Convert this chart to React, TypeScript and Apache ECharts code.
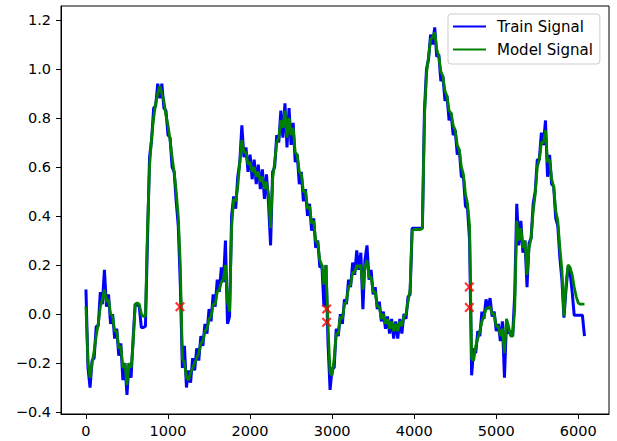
import React, { useEffect, useRef } from "react";
import * as echarts from "echarts";

const sampleStep = 25;

const trainSignal = [
  0.10, -0.22, -0.30, -0.19, -0.18, -0.05, -0.05, 0.09, 0.04, 0.18,
  0.03, 0.08, -0.04, 0.00, -0.10, -0.06, -0.17, -0.12, -0.27, -0.20,
  -0.33, -0.20, -0.26, -0.10, 0.04, 0.04, 0.03, -0.055, -0.055, -0.05,
  0.30, 0.64, 0.71, 0.84, 0.85, 0.94, 0.88, 0.94, 0.84, 0.83,
  0.73, 0.72, 0.60, 0.58, 0.46, 0.36, 0.12, -0.22, -0.13, -0.30,
  -0.23, -0.28, -0.18, -0.23, -0.14, -0.19, -0.09, -0.13, -0.04, -0.08,
  0.02, -0.03, 0.08, 0.03, 0.14, 0.09, 0.19, 0.13, 0.30, -0.04,
  -0.01, 0.40, 0.48, 0.43, 0.56, 0.62, 0.77, 0.64, 0.68, 0.58,
  0.65, 0.55, 0.63, 0.53, 0.61, 0.51, 0.59, 0.47, 0.57, 0.45,
  0.28, 0.58, 0.60, 0.73, 0.70, 0.83, 0.72, 0.86, 0.68, 0.84,
  0.69, 0.78, 0.62, 0.65, 0.53, 0.58, 0.46, 0.51, 0.40, 0.45,
  0.34, 0.39, 0.27, 0.30, 0.19, 0.20, 0.03, 0.20, -0.12, -0.31,
  -0.22, -0.22, -0.06, -0.09, 0.00, -0.04, 0.06, 0.04, 0.14, 0.11,
  0.21, 0.16, 0.26, 0.18, 0.25, 0.02, 0.22, 0.28, 0.14, 0.18,
  0.08, 0.11, 0.02, 0.05, -0.03, 0.01, -0.06, -0.01, -0.08, -0.02,
  -0.10, -0.03, -0.10, -0.02, -0.08, 0.00, -0.02, 0.07, 0.08, 0.35,
  0.35, 0.35, 0.35, 0.35, 0.35, 0.83, 1.00, 1.04, 1.14, 1.10,
  1.17, 1.05, 1.06, 0.95, 0.97, 0.87, 0.89, 0.79, 0.82, 0.73,
  0.75, 0.65, 0.67, 0.56, 0.56, 0.44, 0.43, 0.30, -0.25, -0.14,
  -0.16, -0.07, -0.09, 0.01, -0.02, 0.06, 0.02, 0.065, -0.01, 0.01,
  -0.07, -0.04, -0.11, -0.03, -0.26, -0.03, -0.08, -0.07, -0.09, 0.08,
  0.45, 0.28, 0.38, 0.25, 0.30, 0.11, 0.29, 0.31, 0.45, 0.50,
  0.63, 0.63, 0.74, 0.69, 0.79, 0.56, 0.65, 0.53, 0.52, 0.39,
  0.36, 0.23, 0.14, -0.015, 0.10, 0.19, 0.17, 0.09, -0.005, -0.005,
  -0.005, -0.005, -0.005, -0.09,
];

const modelSignal = [
  0.03, -0.20, -0.26, -0.20, -0.15, -0.09, -0.04, 0.03, 0.06, 0.10,
  0.05, 0.06, 0.00, -0.01, -0.07, -0.07, -0.14, -0.13, -0.22, -0.20,
  -0.29, -0.20, -0.22, -0.12, 0.04, 0.045, 0.04, 0.00, -0.01, -0.01,
  0.35, 0.60, 0.72, 0.80, 0.86, 0.90, 0.93, 0.90, 0.87, 0.81,
  0.77, 0.71, 0.64, 0.58, 0.50, 0.40, 0.20, -0.18, -0.20, -0.26,
  -0.27, -0.24, -0.22, -0.20, -0.18, -0.16, -0.12, -0.11, -0.07, -0.06,
  -0.02, -0.01, 0.04, 0.04, 0.09, 0.10, 0.13, 0.14, 0.20, 0.05,
  0.01, 0.35, 0.47, 0.46, 0.52, 0.62, 0.71, 0.66, 0.66, 0.61,
  0.62, 0.58, 0.60, 0.56, 0.58, 0.54, 0.56, 0.51, 0.54, 0.49,
  0.35, 0.55, 0.62, 0.70, 0.72, 0.79, 0.76, 0.83, 0.72, 0.80,
  0.73, 0.76, 0.66, 0.65, 0.58, 0.57, 0.50, 0.50, 0.43, 0.44,
  0.37, 0.38, 0.30, 0.29, 0.22, 0.20, 0.12, 0.20, -0.05, -0.24,
  -0.25, -0.18, -0.08, -0.08, -0.01, -0.02, 0.04, 0.05, 0.11, 0.12,
  0.17, 0.17, 0.20, 0.19, 0.20, 0.10, 0.19, 0.22, 0.15, 0.15,
  0.09, 0.09, 0.03, 0.03, -0.02, 0.00, -0.04, -0.02, -0.06, -0.03,
  -0.07, -0.04, -0.07, -0.03, -0.05, -0.01, 0.00, 0.05, 0.10, 0.34,
  0.345, 0.345, 0.345, 0.345, 0.35, 0.80, 0.98, 1.05, 1.12, 1.13,
  1.15, 1.08, 1.05, 0.99, 0.97, 0.91, 0.89, 0.83, 0.82, 0.77,
  0.75, 0.69, 0.67, 0.60, 0.57, 0.49, 0.45, 0.36, -0.18, -0.19,
  -0.13, -0.10, -0.07, -0.03, -0.01, 0.02, 0.025, 0.03, 0.00, 0.00,
  -0.05, -0.05, -0.09, -0.06, -0.16, -0.02, -0.05, -0.09, -0.09, 0.02,
  0.38, 0.30, 0.35, 0.27, 0.30, 0.16, 0.27, 0.31, 0.42, 0.49,
  0.60, 0.63, 0.70, 0.70, 0.75, 0.62, 0.63, 0.55, 0.52, 0.42,
  0.38, 0.27, 0.18, -0.01, 0.12, 0.20, 0.19, 0.16, 0.11, 0.07,
  0.045, 0.04, 0.04, 0.04,
];

const anomalyX = [1146, 2933, 2933, 4672, 4672];
const anomalyY = [0.03, 0.02, -0.034, 0.11, 0.027];

const xMin = -304;
const xMax = 6374;
const yMin = -0.408;
const yMax = 1.257;

const FONT = "DejaVu Sans";
const X_SYMBOL =
  "path://M0,1.5 L1.5,0 L5,3.5 L8.5,0 L10,1.5 L6.5,5 L10,8.5 L8.5,10 L5,6.5 L1.5,10 L0,8.5 L3.5,5 Z";

const fmtY = (v: number) => {
  const s = v.toFixed(1);
  return s.startsWith("-") ? "\u2212" + s.slice(1) : s;
};

export default function App() {
  const ref = useRef<HTMLDivElement>(null);

  useEffect(() => {
    document.body.style.margin = "0";
    if (!ref.current) return;
    const chart = echarts.init(ref.current, undefined, { renderer: "svg" });

    const trainData = trainSignal.map((v, i) => [i * sampleStep, v]);
    const modelData = modelSignal.map((v, i) => [i * sampleStep, v]);
    const anomalyData = anomalyX.map((x, i) => [x, anomalyY[i]]);

    chart.setOption({
      animation: false,
      backgroundColor: "#ffffff",
      grid: {
        left: 61,
        top: 6,
        right: 8,
        bottom: 27,
        show: true,
        borderColor: "#000000",
        borderWidth: 1,
        backgroundColor: "transparent",
      },
      legend: {
        left: 448,
        top: 14,
        orient: "vertical",
        padding: [5, 7, 7, 5],
        itemGap: 8,
        itemWidth: 33,
        itemHeight: 2,
        borderColor: "#cccccc",
        borderWidth: 1,
        borderRadius: 3,
        backgroundColor: "rgba(255,255,255,0.8)",
        textStyle: {
          fontFamily: FONT,
          fontSize: 15,
          color: "#000000",
          padding: [0, 0, 0, 6],
        },
        data: [
          { name: "Train Signal", icon: "rect" },
          { name: "Model Signal", icon: "rect" },
        ],
      },
      xAxis: {
        type: "value",
        min: xMin,
        max: xMax,
        splitNumber: 7,
        splitLine: { show: false },
        axisLine: { show: true, onZero: false, lineStyle: { color: "#000", width: 1 } },
        axisTick: { show: true, inside: false, length: 5, lineStyle: { color: "#000" } },
        axisLabel: {
          showMinLabel: false,
          showMaxLabel: false,
          margin: 9,
          fontFamily: FONT,
          fontSize: 14.5,
          color: "#000",
          formatter: (v: number) => String(v),
        },
      },
      yAxis: {
        type: "value",
        min: yMin,
        max: yMax,
        splitNumber: 8,
        splitLine: { show: false },
        axisLine: { show: true, onZero: false, lineStyle: { color: "#000", width: 1 } },
        axisTick: { show: true, inside: false, length: 5, lineStyle: { color: "#000" } },
        axisLabel: {
          showMinLabel: false,
          showMaxLabel: false,
          margin: 10,
          fontFamily: FONT,
          fontSize: 14.5,
          color: "#000",
          formatter: fmtY,
        },
      },
      series: [
        {
          name: "Train Signal",
          type: "line",
          data: trainData,
          showSymbol: false,
          symbol: "none",
          lineStyle: { color: "#0000ff", width: 3 },
          itemStyle: { color: "#0000ff" },
          z: 2,
        },
        {
          name: "Model Signal",
          type: "line",
          data: modelData,
          showSymbol: false,
          symbol: "none",
          lineStyle: { color: "#008000", width: 2.8 },
          itemStyle: { color: "#008000" },
          z: 3,
        },
        {
          name: "Anomaly",
          type: "scatter",
          data: anomalyData,
          symbol: X_SYMBOL,
          symbolSize: 10,
          itemStyle: { color: "#ff0000" },
          z: 4,
        },
      ],
    });

    return () => chart.dispose();
  }, []);

  return <div ref={ref} style={{ width: 617, height: 441 }} />;
}
